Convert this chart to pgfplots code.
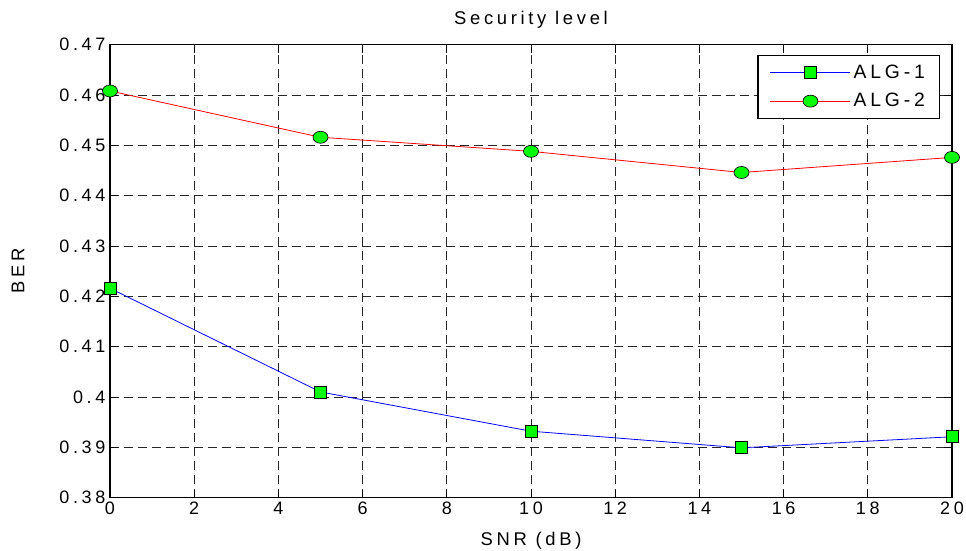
\documentclass[border=0pt]{standalone}
\usepackage{fontspec}
\setmainfont[LetterSpace=20]{Liberation Sans}
\usepackage{pgfplots}
\pgfplotsset{compat=1.18}

\begin{document}
\begin{tikzpicture}
\begin{axis}[
    name=ax,
    scale only axis,
    width=631.5pt, height=339.75pt,
    xmin=0, xmax=20,
    ymin=0.38, ymax=0.47,
    xtick={0,2,4,6,8,10,12,14,16,18,20},
    ytick={0.38,0.39,0.40,0.41,0.42,0.43,0.44,0.45,0.46,0.47},
    yticklabel style={/pgf/number format/fixed, /pgf/number format/precision=2},
    /pgf/number format/assume math mode=true,
    ticklabel style={font=\fontsize{13.5}{15}\selectfont},
    tick align=inside,
    tick pos=both,
    major tick length=6pt,
    tick style={black, line width=0.6pt},
    axis line style={black, line width=0.9pt},
    grid=major,
    grid style={dash pattern=on 6.5pt off 4pt, black!85, line width=0.6pt},
    title={Security level},
    xlabel={SNR (dB)},
    ylabel={BER},
    every axis title/.style={at={(0.5,1)}, yshift=18.5pt, anchor=center, font=\fontsize{13.8}{15}\selectfont},
    every axis x label/.style={at={(0.5,0)}, yshift=-32pt, anchor=center, font=\fontsize{13.8}{15}\selectfont},
    every axis y label/.style={at={(0,0.5)}, xshift=-69pt, rotate=90, anchor=center, font=\fontsize{13.8}{15}\selectfont},
    legend style={at={(0.986,0.978)}, anchor=north east, draw=black, line width=0.9pt,
        font=\fontsize{14.5}{16}\selectfont, row sep=6pt, inner xsep=9pt, inner ysep=5pt},
    legend cell align=left,
]
\addplot[color=blue, line width=0.6pt, mark=square*,
    mark options={fill=green, draw=black, line width=0.5pt}, mark size=4.5pt,
    legend image code/.code={
      \draw[blue, line width=0.7pt] (0pt,0pt) -- (60pt,0pt);
      \draw[fill=green, draw=black, line width=0.5pt] (25.5pt,-4.5pt) rectangle (34.5pt,4.5pt);}]
    coordinates {(0,0.4216)(5,0.4010)(10,0.3932)(15,0.3899)(20,0.3921)};
\addplot[color=red, line width=0.6pt, mark=*,
    mark options={fill=green, draw=black, line width=0.5pt, xscale=1.25}, mark size=4.5pt,
    legend image code/.code={
      \draw[red, line width=0.7pt] (0pt,0pt) -- (60pt,0pt);
      \draw[fill=green, draw=black, line width=0.5pt] (30pt,0pt) ellipse [x radius=5.6pt, y radius=4.5pt];}]
    coordinates {(0,0.4608)(5,0.4516)(10,0.4488)(15,0.4446)(20,0.4476)};
\legend{ALG-1, ALG-2}
\end{axis}
\pgfresetboundingbox
\path[use as bounding box] (ax.south west) ++(-82.5pt,-40pt) rectangle ([xshift=10.5pt,yshift=33.5pt]ax.north east);
\end{tikzpicture}
\end{document}
